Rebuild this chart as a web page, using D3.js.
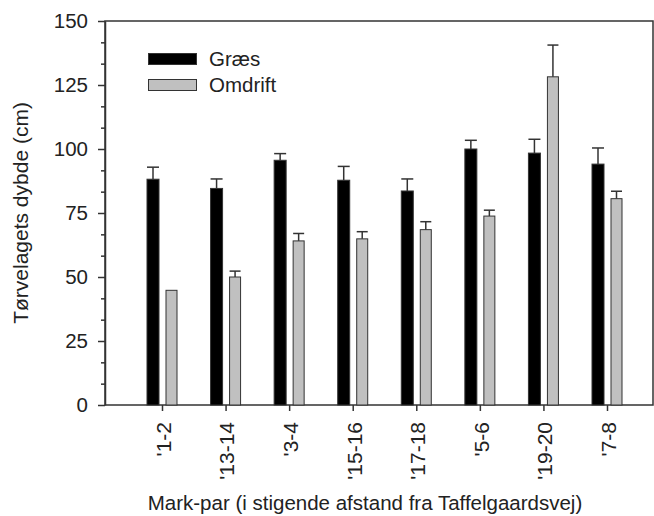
<!DOCTYPE html>
<html>
<head>
<meta charset="utf-8">
<script src="https://cdn.jsdelivr.net/npm/d3@7"></script>
<style>
  body { margin: 0; background: #fff; }
  text { font-family: "Liberation Sans", Arial, sans-serif; fill: #222; }
</style>
</head>
<body>
<div id="chart"></div>
<script>
var width = 654,
    height = 516;

// data
var categories = ["'1-2", "'13-14", "'3-4", "'15-16", "'17-18", "'5-6", "'19-20", "'7-8"];
var graes = [88.2, 84.6, 95.6, 87.8, 83.6, 100.0, 98.4, 94.1];
var graesErr = [4.7, 3.7, 2.6, 5.4, 4.7, 3.4, 5.4, 6.3];
var omdrift = [44.8, 50.0, 64.1, 64.9, 68.5, 73.8, 128.2, 80.6];
var omdriftErr = [0, 2.3, 2.9, 2.8, 3.1, 2.3, 12.4, 2.9];
var yTicks = [0, 25, 50, 75, 100, 125, 150];
var seriesNames = ["Græs", "Omdrift"];

var plotL = 105, plotR = 653, plotT = 21, plotB = 405;
var lineCol = "#333";

var svg = d3.select("#chart").append("svg")
    .attr("width", width)
    .attr("height", height);

var x = d3.scalePoint()
    .domain(categories)
    .range([162, 607]);

var y = d3.scaleLinear()
    .domain([0, 150])
    .range([plotB, plotT]);

// frame
svg.append("rect")
    .attr("x", plotL)
    .attr("y", plotT)
    .attr("width", plotR - plotL)
    .attr("height", plotB - plotT)
    .attr("fill", "none")
    .attr("stroke", lineCol)
    .attr("stroke-width", 1.5);

// bars
var series = [
  {name: seriesNames[0], vals: graes, err: graesErr, fill: "#000", off: -15, w: 12},
  {name: seriesNames[1], vals: omdrift, err: omdriftErr, fill: "#c0c0c0", off: 4, w: 11}
];

series.forEach(function(s) {
  var g = svg.append("g");
  var rows = categories.map(function(c, i) { return {c: c, v: s.vals[i], e: s.err[i]}; });

  g.selectAll("rect")
    .data(rows)
    .enter().append("rect")
      .attr("x", function(d) { return x(d.c) + s.off; })
      .attr("y", function(d) { return y(d.v); })
      .attr("width", s.w)
      .attr("height", function(d) { return y(0) - y(d.v); })
      .attr("fill", s.fill)
      .attr("stroke", lineCol)
      .attr("stroke-width", 1);

  var eb = g.selectAll(".err")
    .data(rows.filter(function(d) { return d.e > 0; }))
    .enter().append("g")
      .attr("class", "err");

  eb.append("line")
      .attr("x1", function(d) { return x(d.c) + s.off + s.w / 2; })
      .attr("x2", function(d) { return x(d.c) + s.off + s.w / 2; })
      .attr("y1", function(d) { return y(d.v); })
      .attr("y2", function(d) { return y(d.v + d.e); })
      .attr("stroke", lineCol)
      .attr("stroke-width", 1.5);

  eb.append("line")
      .attr("x1", function(d) { return x(d.c) + s.off; })
      .attr("x2", function(d) { return x(d.c) + s.off + s.w; })
      .attr("y1", function(d) { return y(d.v + d.e); })
      .attr("y2", function(d) { return y(d.v + d.e); })
      .attr("stroke", lineCol)
      .attr("stroke-width", 1.5);
});

// y axis, major + minor ticks
var yAxis = svg.append("g")
    .attr("transform", "translate(" + plotL + ",0)")
    .call(d3.axisLeft(y).tickValues(yTicks).tickSize(7).tickPadding(10).tickSizeOuter(0));
yAxis.select(".domain").attr("stroke", lineCol).attr("stroke-width", 1.5);
yAxis.selectAll(".tick line").attr("stroke", lineCol).attr("stroke-width", 1.5);
yAxis.selectAll("text")
    .style("font-size", "20.5px")
    .attr("fill", "#222");

var minor = d3.range(0, 150, 25 / 3).filter(function(v, i) { return i % 3 !== 0; });
var yMinor = svg.append("g")
    .attr("transform", "translate(" + plotL + ",0)")
    .call(d3.axisLeft(y).tickValues(minor).tickSize(4).tickFormat("").tickSizeOuter(0));
yMinor.select(".domain").remove();
yMinor.selectAll(".tick line").attr("stroke", lineCol).attr("stroke-width", 1.5);

// x axis
var xAxis = svg.append("g")
    .attr("transform", "translate(0," + plotB + ")")
    .call(d3.axisBottom(x).tickSize(6).tickSizeOuter(0));
xAxis.select(".domain").remove();
xAxis.selectAll(".tick line").attr("stroke", lineCol).attr("stroke-width", 1.5);
xAxis.selectAll("text")
    .style("font-size", "21px")
    .attr("fill", "#222")
    .attr("text-anchor", "end")
    .attr("transform", "rotate(-90)")
    .attr("x", -17)
    .attr("y", 1)
    .attr("dy", "0.35em");

// axis titles
svg.append("text")
    .attr("transform", "translate(28," + ((plotT + plotB) / 2) + ") rotate(-90)")
    .attr("text-anchor", "middle")
    .style("font-size", "21px")
    .text("Tørvelagets dybde (cm)");

svg.append("text")
    .attr("x", 365)
    .attr("y", 510)
    .attr("text-anchor", "middle")
    .style("font-size", "20.5px")
    .text("Mark-par (i stigende afstand fra Taffelgaardsvej)");

// legend
var legend = svg.append("g");
series.forEach(function(s, i) {
  legend.append("rect")
      .attr("x", 148.5)
      .attr("y", 53.5 + i * 26)
      .attr("width", 48)
      .attr("height", 11)
      .attr("fill", s.fill)
      .attr("stroke", lineCol)
      .attr("stroke-width", 1);
  legend.append("text")
      .attr("x", 209)
      .attr("y", 65.5 + i * 26)
      .style("font-size", "20.5px")
      .text(s.name);
});
</script>
</body>
</html>
